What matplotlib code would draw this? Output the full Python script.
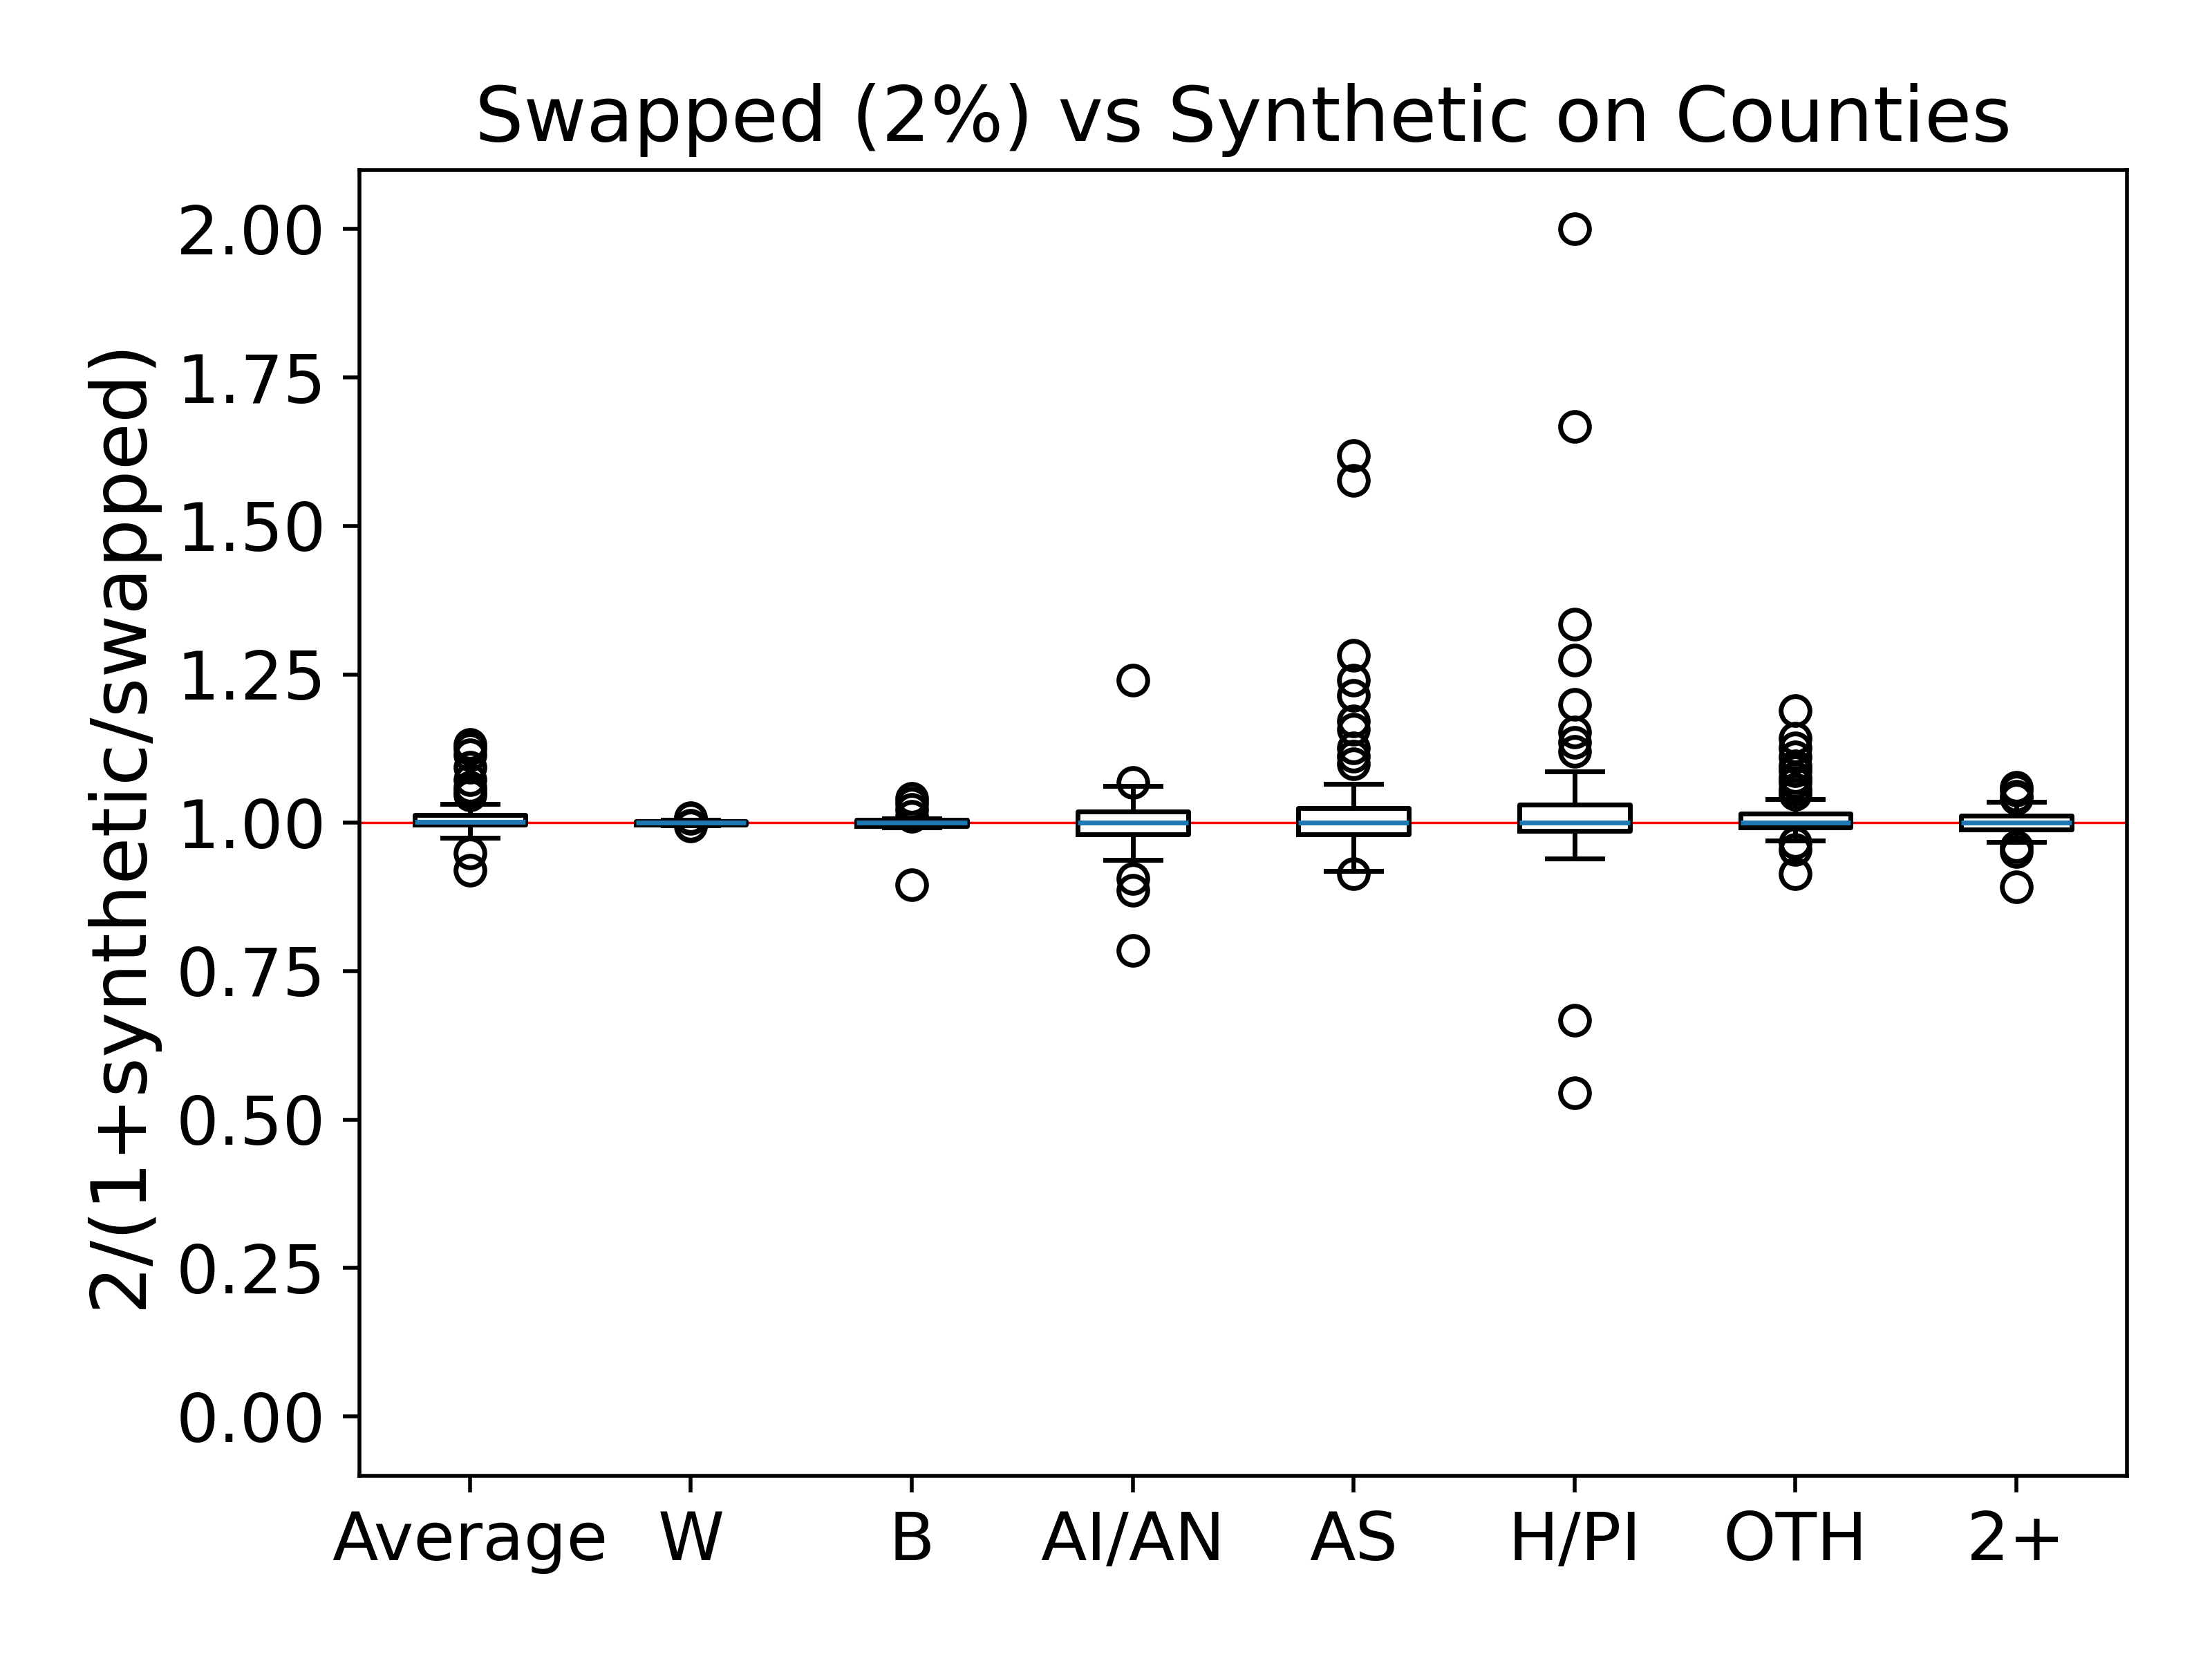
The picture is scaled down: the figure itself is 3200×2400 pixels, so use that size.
import matplotlib
matplotlib.use('Agg')
import matplotlib.pyplot as plt

groups = ['Average', 'W', 'B', 'AI/AN', 'AS', 'H/PI', 'OTH', '2+']

medians = [1.0016, 1.0, 1.0, 1.0, 1.0, 1.0, 1.0, 1.0]
q1s = [0.997, 0.9973, 0.995, 0.981, 0.9806, 0.9864, 0.9922, 0.9883]
q3s = [1.0137, 1.0028, 1.005, 1.0194, 1.0253, 1.031, 1.0156, 1.0117]
whis_lo = [0.975, 0.9953, 0.992, 0.938, 0.919, 0.940, 0.970, 0.968]
whis_hi = [1.032, 1.0047, 1.0078, 1.0623, 1.065, 1.0868, 1.040, 1.0357]

fliers = [
    [1.1323, 1.1245, 1.1148, 1.0934, 1.072, 1.060, 1.0525, 1.0467, 0.9495, 0.920],
    [1.008, 1.007, 0.996, 0.995],
    [1.041, 1.033, 1.023, 1.0105, 0.895],
    [1.24, 1.068, 0.906, 0.886, 0.785],
    [1.618, 1.577, 1.282, 1.240, 1.214, 1.172, 1.158, 1.126, 1.112, 1.0995, 0.914],
    [2.0, 1.667, 1.334, 1.274, 1.200, 1.153, 1.135, 1.12, 0.667, 0.545],
    [1.1887, 1.142, 1.1265, 1.111, 1.0953, 1.0875, 1.076, 1.068, 1.056, 1.048,
     0.967, 0.955, 0.9145],
    [1.060, 1.055, 1.045, 1.041, 0.9595, 0.952, 0.892],
]

stats = []
for i, g in enumerate(groups):
    stats.append({'label': g, 'med': medians[i], 'q1': q1s[i], 'q3': q3s[i],
                  'whislo': whis_lo[i], 'whishi': whis_hi[i], 'fliers': fliers[i]})

fig = plt.figure(figsize=(6.4, 4.8), dpi=500)
ax = fig.add_axes([0.1625, 0.1104, 0.799, 0.7873])

ax.axhline(1.0, color='red', linewidth=0.5)
ax.bxp(stats, medianprops={'color': '#1f77b4'})

ax.set_ylim(-0.1, 2.1)
ax.set_title('Swapped (2%) vs Synthetic on Counties', fontsize=16)
ax.set_ylabel('2/(1+synthetic/swapped)', fontsize=16)
ax.tick_params(axis='both', labelsize=14)

fig.savefig('out.png', dpi=500)
